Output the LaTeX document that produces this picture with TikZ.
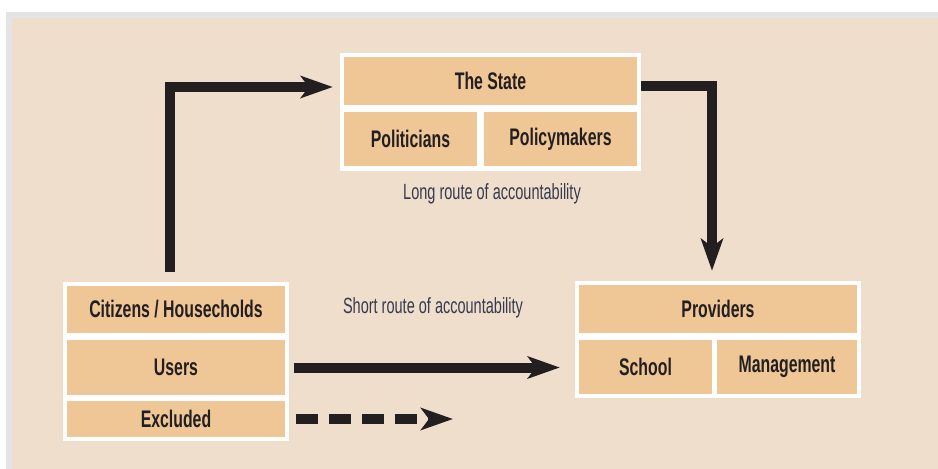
\documentclass[tikz,border=0pt]{standalone}
\usepackage{fontspec}
\setmainfont{Liberation Sans}[FakeStretch=0.66]
\usetikzlibrary{arrows.meta,positioning,calc}
\definecolor{pagegray}{HTML}{E4E4E4}
\definecolor{panel}{HTML}{F0DECC}
\definecolor{cellfill}{HTML}{EFC797}
\definecolor{inkdark}{HTML}{231F20}
\definecolor{labelink}{HTML}{353A4C}

\begin{document}
\begin{tikzpicture}[
    x=1pt, y=-1pt,
    group/.style={rectangle, fill=white, inner sep=0pt},
    cell/.style={rectangle, fill=cellfill, inner sep=0pt, text=inkdark, font=\fontsize{24}{26}\selectfont\bfseries},
    routelabel/.style={text=labelink, font=\fontsize{22}{24}\selectfont},
    route/.style={draw=inkdark, line width=10pt, line join=miter, -{Stealth[length=32pt, width=22pt, inset=8pt]}}
]
\useasboundingbox (0,0) rectangle (938,469);

% Background panel
\fill[pagegray] (6,12) rectangle (938,469);
\fill[panel] (12,18) rectangle (938,469);

% The State
\node[group, minimum width=301pt, minimum height=118pt] (state) at (490.5,112) {};
\node[cell, minimum width=293pt, minimum height=48pt] (stateTitle) at (490.5,81) {The State};
\node[cell, minimum width=133pt, minimum height=54pt] (politicians) at (410.5,139) {Politicians};
\node[cell, minimum width=153pt, minimum height=54pt] (policymakers) at (560.5,139) {Policymakers};

% Citizens
\node[group, minimum width=226pt, minimum height=159pt] (citizens) at (176,361.5) {};
\node[cell, minimum width=218pt, minimum height=47pt] (citizensTitle) at (176,309.5) {Citizens / Housecholds};
\node[cell, minimum width=218pt, minimum height=55pt] (users) at (176,367.5) {Users};
\node[cell, minimum width=218pt, minimum height=36pt] (excluded) at (176,419) {Excluded};

% Providers
\node[group, minimum width=286pt, minimum height=117pt] (providers) at (718,339.5) {};
\node[cell, minimum width=278pt, minimum height=48pt] (providersTitle) at (718,309) {Providers};
\node[cell, minimum width=133pt, minimum height=54pt] (school) at (645.5,367) {School};
\node[cell, minimum width=140pt, minimum height=54pt] (management) at (787,367) {Management};

% Labels
\node[routelabel] (longRoute) at (492,194) {Long route of accountability};
\node[routelabel] (shortRoute) at (433,308) {Short route of accountability};

% Arrows
\coordinate (exclEnd) at (453,419);
\draw[route] ([xshift=-6pt, yshift=10pt]citizens.north) |- ([xshift=-11pt, yshift=-6pt]stateTitle.west);
\draw[route] ([yshift=-5pt]state.east |- stateTitle.east) -| ([xshift=-6pt, yshift=10pt]providers.north);
\draw[route] ([xshift=5pt]citizens.east |- users.east) -- ([xshift=-15pt]providers.west |- users.east);
\draw[route, dash pattern=on 22pt off 11pt] ([xshift=7pt]citizens.east |- excluded.east) -- (exclEnd);

\end{tikzpicture}
\end{document}
